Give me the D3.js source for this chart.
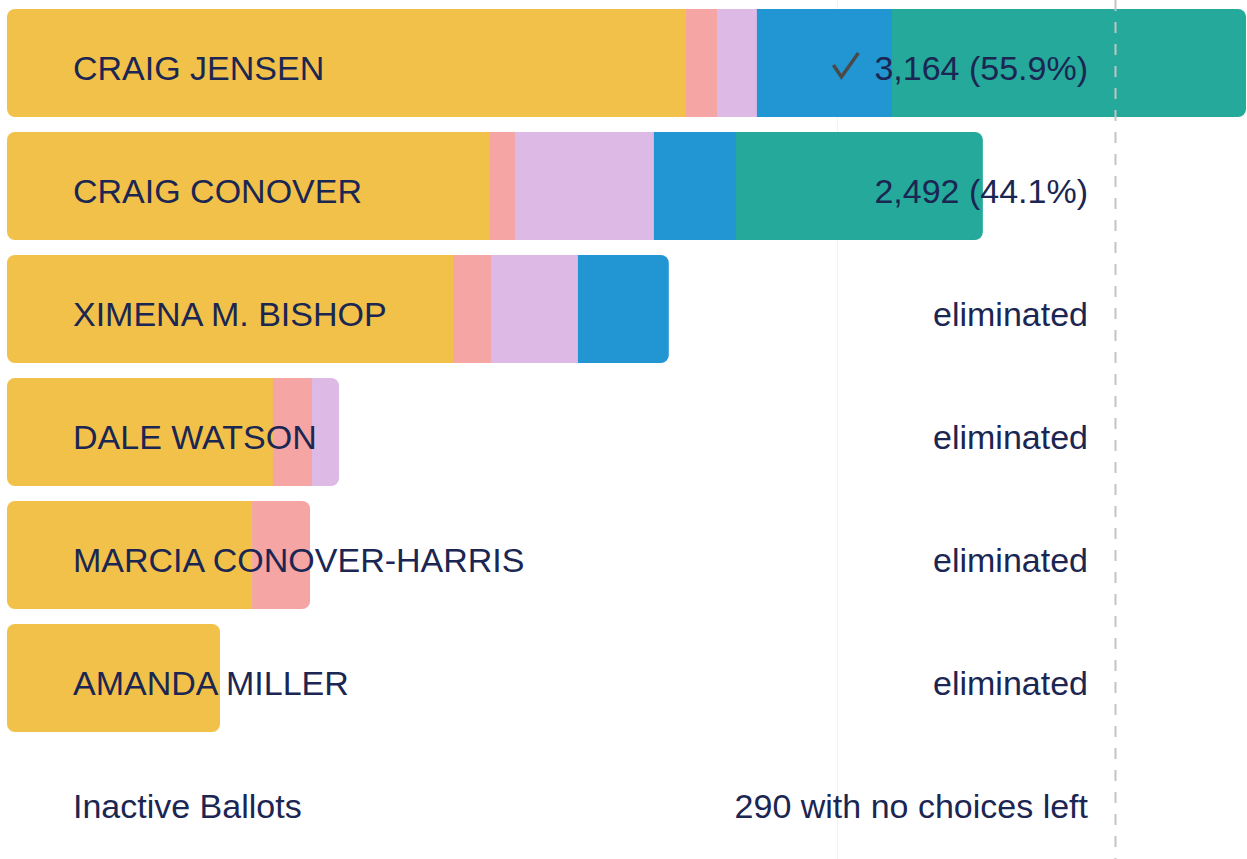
<!DOCTYPE html>
<html>
<head>
<meta charset="utf-8">
<script src="https://cdn.jsdelivr.net/npm/d3@7"></script>
<style>
  html, body { margin: 0; padding: 0; background: #fff; }
  svg { display: block; font-family: "Liberation Sans", Arial, Helvetica, sans-serif; }
</style>
</head>
<body>
<svg id="chart"></svg>
<script>
// candidates, top to bottom
const candidates = ['CRAIG JENSEN', 'CRAIG CONOVER', 'XIMENA M. BISHOP', 'DALE WATSON', 'MARCIA CONOVER-HARRIS', 'AMANDA MILLER'];
// vote sources: first choice, then transfers from each eliminated candidate
const sources = ['first', 'Miller', 'Conover-Harris', 'Watson', 'Bishop'];
const firstChoice       = [1734, 1233, 1139, 679, 626, 544];
const fromMiller        = [79, 64, 97, 100, 148, 0];
const fromConoverHarris = [102, 355, 222, 69, 0, 0];
const fromWatson        = [345, 209, 232, 0, 0, 0];
const fromBishop        = [904, 631, 0, 0, 0, 0];
const resultLabels = ['3,164 (55.9%)', '2,492 (44.1%)', 'eliminated', 'eliminated', 'eliminated', 'eliminated'];
const winner = 'CRAIG JENSEN';
const inactiveLabel = 'Inactive Ballots';
const inactiveText = '290 with no choices left';
const majority = 2829;

const colors = ['#f2c149', '#f4a5a4', '#ddb9e6', '#2196d3', '#24a99b'];

const config = {
  width: 1247, height: 859,
  left: 7, right: 1246,
  rowTop: 9, rowStep: 123, barHeight: 108,
  labelX: 73, valueX: 1088,
  fontSize: '34px',
  textColor: '#1b2652'
};

const rows = candidates.map((name, i) => {
  const vals = [firstChoice[i], fromMiller[i], fromConoverHarris[i], fromWatson[i], fromBishop[i]];
  return { name, vals, total: d3.sum(vals), label: resultLabels[i] };
});

const svg = d3.select('#chart')
  .attr('width', config.width)
  .attr('height', config.height);

const x = d3.scaleLinear()
  .domain([0, d3.max(rows, d => d.total)])
  .range([config.left, config.right]);

const nRows = rows.length + 1;
const gap = config.rowStep - config.barHeight;
const y = d3.scaleBand()
  .domain(d3.range(nRows))
  .range([config.rowTop, config.rowTop + config.rowStep * nRows - gap])
  .paddingInner(gap / config.rowStep)
  .paddingOuter(0);

const color = d3.scaleOrdinal().domain(sources).range(colors);

// faint column guide
svg.append('line')
  .attr('x1', 837.5).attr('x2', 837.5)
  .attr('y1', 0).attr('y2', config.height)
  .attr('stroke', '#f3f3f3')
  .attr('stroke-width', 1);

const defs = svg.append('defs');
rows.forEach((r, i) => {
  defs.append('clipPath')
    .attr('id', 'clip' + i)
    .append('rect')
    .attr('x', x(0))
    .attr('y', y(i))
    .attr('width', x(r.total) - x(0))
    .attr('height', y.bandwidth())
    .attr('rx', 8).attr('ry', 8);
});

const rowG = svg.selectAll('g.row')
  .data(rows)
  .join('g')
  .attr('class', 'row')
  .attr('clip-path', (d, i) => `url(#clip${i})`);

rowG.selectAll('rect')
  .data((d, i) => {
    let acc = 0;
    return d.vals.map((v, j) => {
      const s = { row: i, src: sources[j], x0: acc, x1: acc + v };
      acc += v;
      return s;
    }).filter(s => s.x1 > s.x0);
  })
  .join('rect')
  .attr('x', d => x(d.x0))
  .attr('y', d => y(d.row))
  .attr('width', d => x(d.x1) - x(d.x0) + 0.5)
  .attr('height', y.bandwidth())
  .attr('fill', d => color(d.src));

// majority threshold
svg.append('line')
  .attr('x1', Math.round(x(majority)) + 0.5)
  .attr('x2', Math.round(x(majority)) + 0.5)
  .attr('y1', 0).attr('y2', config.height)
  .attr('stroke', '#c4c4c4')
  .attr('stroke-width', 2)
  .attr('stroke-dasharray', '11 11');

const textY = i => y(i) + y.bandwidth() / 2 + 17;

svg.selectAll('text.name')
  .data(rows)
  .join('text')
  .attr('class', 'name')
  .attr('x', config.labelX)
  .attr('y', (d, i) => textY(i))
  .attr('fill', config.textColor)
  .style('font-size', config.fontSize)
  .text(d => d.name);

const valueText = svg.selectAll('text.value')
  .data(rows)
  .join('text')
  .attr('class', 'value')
  .attr('x', config.valueX)
  .attr('y', (d, i) => textY(i))
  .attr('text-anchor', 'end')
  .attr('fill', config.textColor)
  .style('font-size', config.fontSize)
  .text(d => d.label);

// check mark for the winner
valueText.filter(d => d.name === winner).each(function(d) {
  const bb = this.getBBox();
  const i = rows.indexOf(d);
  const cx = bb.x - 42, cy = y(i) + y.bandwidth() / 2;
  svg.append('path')
    .attr('d', `M${cx + 1},${cy + 2} L${cx + 9},${cy + 14} L${cx + 26},${cy - 10}`)
    .attr('fill', 'none')
    .attr('stroke', '#4a4a4a')
    .attr('stroke-width', 3.5)
    .attr('stroke-linejoin', 'miter');
});

// inactive ballots row
const n = rows.length;
svg.append('text')
  .attr('x', config.labelX)
  .attr('y', textY(n))
  .attr('fill', config.textColor)
  .style('font-size', config.fontSize)
  .text(inactiveLabel);

svg.append('text')
  .attr('x', config.valueX)
  .attr('y', textY(n))
  .attr('text-anchor', 'end')
  .attr('fill', config.textColor)
  .style('font-size', config.fontSize)
  .text(inactiveText);
</script>
</body>
</html>
